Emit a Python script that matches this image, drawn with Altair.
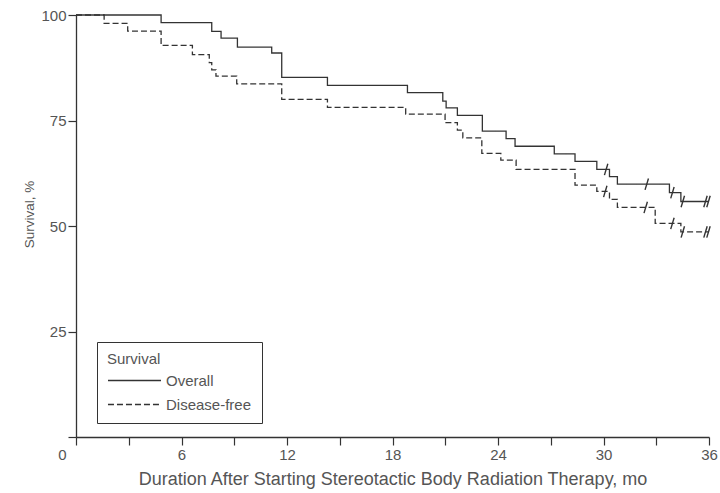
import altair as alt
import pandas as pd

# ---- data ----
overall_t = [0, 4.84, 7.72, 8.25, 9.18, 11.13, 11.7, 14.3, 18.85, 20.86, 21.05, 21.69,
             23.11, 24.46, 24.97, 27.2, 28.38, 29.62, 30.34, 30.79, 33.75, 34.40, 36]
overall_s = [100, 98.2, 96.1, 94.5, 92.4, 91.0, 85.2, 83.3, 81.6, 79.6, 78.0, 76.2,
             72.5, 70.7, 68.9, 67.1, 65.3, 63.4, 61.7, 59.9, 57.9, 55.8, 55.8]

dfs_t = [0, 1.6, 2.94, 4.84, 6.62, 7.58, 7.72, 7.96, 9.14, 11.7, 14.3, 18.75, 20.99,
         21.69, 22.0, 23.08, 24.16, 25.03, 28.38, 29.62, 30.34, 30.79, 32.94, 34.40, 36]
dfs_s = [100, 98.0, 96.2, 92.8, 90.6, 88.7, 87.0, 85.5, 83.7, 80.0, 78.1, 76.5, 74.5,
         72.7, 70.9, 67.2, 65.6, 63.4, 59.7, 58.2, 56.3, 54.4, 50.6, 48.6, 48.6]

overall_cens_t = [30.15, 32.46, 33.92, 34.51, 35.8, 35.97]
overall_cens_s = [63.4, 59.9, 57.9, 55.8, 55.8, 55.8]
dfs_cens_t = [30.1, 32.4, 33.92, 34.51, 35.8, 35.97]
dfs_cens_s = [58.2, 54.4, 50.6, 48.6, 48.6, 48.6]

series_names = ["Overall", "Disease-free"]
x_ticks = [i * 1.5 for i in range(25)]
y_ticks = [0, 25, 50, 75, 100]

FONT = "Liberation Sans Narrow, Liberation Sans, Arial"
TXT = "#555555"
INK = "#333333"

lines = pd.DataFrame(
    {"t": overall_t + dfs_t,
     "s": overall_s + dfs_s,
     "series": ["Overall"] * len(overall_t) + ["Disease-free"] * len(dfs_t)}
)
cens = pd.DataFrame(
    {"t": overall_cens_t + dfs_cens_t,
     "s": overall_cens_s + dfs_cens_s}
)

x_enc = alt.X(
    "t:Q",
    scale=alt.Scale(domain=[0, 36], nice=False),
    axis=alt.Axis(
        title="Duration After Starting Stereotactic Body Radiation Therapy, mo",
        titleFontSize=18,
        values=x_ticks,
        labelExpr="datum.value % 6 == 0 ? datum.label : ''",
        labelOffset={"condition": {"test": "datum.value == 0", "value": -14}, "value": 0},
        grid=False,
        tickSize=8,
        labelPadding=2,
        titlePadding=8,
        labelFlush=False,
        labelOverlap=False,
    ),
)
y_enc = alt.Y(
    "s:Q",
    scale=alt.Scale(domain=[0, 100], nice=False),
    axis=alt.Axis(
        title="Survival, %",
        titleFontSize=13.5,
        titleY=199,
        values=y_ticks,
        labelExpr="datum.value == 0 ? '' : datum.label",
        grid=False,
        tickSize=8,
        labelPadding=2,
        titlePadding=4,
    ),
)

line_layer = alt.Chart(lines).mark_line(
    interpolate="step-after", color=INK, strokeWidth=1.3
).encode(
    x=x_enc,
    y=y_enc,
    strokeDash=alt.StrokeDash(
        "series:N",
        scale=alt.Scale(domain=series_names, range=[[1, 0], [6, 3]]),
        legend=alt.Legend(
            title="Survival",
            orient="none",
            legendX=21,
            legendY=327,
            direction="vertical",
            strokeColor=INK,
            fillColor="white",
            padding=10,
            symbolType="M-6.07,0H1",
            symbolSize=225,
            symbolOffset=38,
            symbolStrokeWidth=1.3,
            symbolStrokeColor=INK,
            labelFont=FONT,
            labelFontSize=15,
            labelColor=TXT,
            titleFont=FONT,
            titleFontSize=15,
            titleFontWeight="normal",
            titleColor=TXT,
            titlePadding=5,
            rowPadding=7,
            labelOffset=4,
        ),
    ),
)

cens_layer = alt.Chart(cens).mark_point(
    shape="M-0.3,1L0.3,-1", filled=False, stroke=INK, strokeWidth=1.4, size=130, opacity=1
).encode(x="t:Q", y="s:Q")

chart = (
    alt.layer(line_layer, cens_layer)
    .properties(
        width=633,
        height=422,
        autosize=alt.AutoSizeParams(type="none"),
        padding={"left": 76, "top": 15, "right": 11, "bottom": 56},
        background="white",
    )
    .configure_view(stroke=None)
    .configure_axis(
        domainColor=INK,
        tickColor=INK,
        domainWidth=1.3,
        tickWidth=1.2,
        labelFont=FONT,
        labelFontSize=15,
        labelColor=TXT,
        titleFont=FONT,
        titleFontWeight="normal",
        titleColor=TXT,
    )
)

chart.save("out.html", embed_options={"renderer": "svg", "actions": False})
